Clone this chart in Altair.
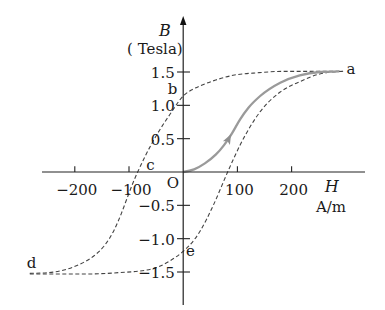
import altair as alt
import pandas as pd

# ---- data (H in A/m, B in Tesla) ----
upper_H = [-283, -250, -220, -190, -165, -145, -128, -114, -102, -92, -84, -70, -49, -24, 0, 15, 31, 60, 92, 140, 185, 240, 295]
upper_B = [-1.52, -1.51, -1.47, -1.38, -1.26, -1.10, -0.88, -0.62, -0.36, -0.15, 0.0, 0.24, 0.555, 0.87, 1.14, 1.23, 1.29, 1.38, 1.45, 1.49, 1.51, 1.51, 1.51]

lower_H = [-283, -230, -178, -120, -67, -45, -24, 0, 15, 31, 55.5, 82, 105, 142, 179, 215, 252, 275, 295]
lower_B = [-1.53, -1.53, -1.53, -1.51, -1.47, -1.42, -1.33, -1.19, -1.07, -0.89, -0.50, 0.0, 0.405, 0.905, 1.20, 1.355, 1.47, 1.50, 1.51]

init_H = [0, 20, 40, 60, 75, 90, 105, 120, 142, 179, 215, 252, 288]
init_B = [0, 0.04, 0.13, 0.26, 0.40, 0.58, 0.79, 0.96, 1.14, 1.34, 1.45, 1.50, 1.51]

x_ticks = [-200, -100, 100, 200]
x_tick_labels = ["\u2212200", "\u2212100", "100", "200"]
y_ticks = [1.5, 1.0, 0.5, -0.5, -1.0, -1.5]
y_tick_labels = ["1.5", "1.0", "0.5", "\u22120.5", "\u22121.0", "\u22121.5"]

point_labels = ["a", "b", "c", "d", "e", "O"]
point_label_H = [309.6, -19.7, -60.3, -279.9, 13.5, -18.8]
point_label_B = [1.545, 1.24, 0.105, -1.365, -1.19, -0.165]

arrow_H = [84.0]
arrow_B = [0.50]

# ---- geometry / styling constants ----
XDOM = [-338.0, 372.3]
YDOM = [-2.07, 2.58]
FONT = "DejaVu Serif"
xs = alt.Scale(domain=XDOM, nice=False, zero=False)
ys = alt.Scale(domain=YDOM, nice=False, zero=False)

def X(field="x"):
    return alt.X(f"{field}:Q", scale=xs, axis=None)

def Y(field="y"):
    return alt.Y(f"{field}:Q", scale=ys, axis=None)

upper = pd.DataFrame({"x": upper_H, "y": upper_B, "i": range(len(upper_H))})
lower = pd.DataFrame({"x": lower_H, "y": lower_B, "i": range(len(lower_H))})
init = pd.DataFrame({"x": init_H, "y": init_B, "i": range(len(init_H))})

axes_df = pd.DataFrame({"x": [-260.5, 0], "x2": [335.4, 0], "y": [0, -1.995], "y2": [0, 2.25]})
axes = alt.Chart(axes_df).mark_rule(color="#222", strokeWidth=1.2).encode(
    x=X(), x2="x2:Q", y=Y(), y2="y2:Q")

arrow_up = alt.Chart(pd.DataFrame({"x": [0], "y": [2.272]})).mark_point(
    shape="M0,-1L0.72,1L-0.72,1Z", filled=True, color="#111", size=81, opacity=1
).encode(x=X(), y=Y())

xt = pd.DataFrame({"x": x_ticks, "y": [0] * len(x_ticks), "y2": [0.085] * len(x_ticks), "label": x_tick_labels})
xtick_marks = alt.Chart(xt).mark_rule(color="#222", strokeWidth=1.1).encode(x=X(), y=Y(), y2="y2:Q")
xtick_text = alt.Chart(xt).mark_text(font=FONT, fontSize=15, color="#1a1a1a", baseline="middle",
                                     align="center", dy=18, dx=2).encode(x=X(), y=Y(), text="label:N")

yt = pd.DataFrame({"y": y_ticks, "x": [-11.4] * len(y_ticks), "x2": [12.5] * len(y_ticks), "x0": [0] * len(y_ticks),
                   "label": y_tick_labels})
ytick_marks = alt.Chart(yt).mark_rule(color="#222", strokeWidth=1.1).encode(x=X(), x2="x2:Q", y=Y())
ytick_text = alt.Chart(yt).mark_text(font=FONT, fontSize=15, color="#1a1a1a", baseline="middle",
                                     align="right", dx=-8.5, dy=1).encode(x=X("x0"), y=Y(), text="label:N")

dash_style = dict(color="#444444", strokeWidth=1.1, strokeDash=[4, 2.5], interpolate="monotone")
upper_line = alt.Chart(upper).mark_line(**dash_style).encode(x=X(), y=Y(), order="i:Q")
lower_line = alt.Chart(lower).mark_line(**dash_style).encode(x=X(), y=Y(), order="i:Q")
init_line = alt.Chart(init).mark_line(color="#9a9a9a", strokeWidth=2.3, interpolate="monotone").encode(
    x=X(), y=Y(), order="i:Q")

arrow_init = alt.Chart(pd.DataFrame({"x": arrow_H, "y": arrow_B})).mark_point(
    shape="M0,-1L0.8,1L0,0.55L-0.8,1Z", filled=True, color="#8f8f8f", size=100, angle=28, opacity=1
).encode(x=X(), y=Y())

pl = pd.DataFrame({"x": point_label_H, "y": point_label_B, "label": point_labels})
point_text = alt.Chart(pl).mark_text(font=FONT, fontSize=15, color="#1a1a1a", baseline="middle",
                                     align="center").encode(x=X(), y=Y(), text="label:N")

tesla_text = alt.Chart(pd.DataFrame({"x": [-0.9], "y": [1.845], "label": ["( Tesla)"]})).mark_text(
    font=FONT, fontSize=15, color="#1a1a1a", baseline="middle", align="right").encode(
    x=X(), y=Y(), text="label:N")
am_text = alt.Chart(pd.DataFrame({"x": [272.7], "y": [-0.52], "label": ["A/m"]})).mark_text(
    font=FONT, fontSize=15, color="#1a1a1a", baseline="middle", align="center").encode(
    x=X(), y=Y(), text="label:N")
titles_italic = pd.DataFrame({"x": [-33.6, 274.0], "y": [2.12, -0.23], "label": ["B", "H"]})
italic_text = alt.Chart(titles_italic).mark_text(font=FONT, fontSize=16, fontStyle="italic", color="#1a1a1a",
                                                 baseline="middle", align="center").encode(
    x=X(), y=Y(), text="label:N")

chart = alt.layer(
    upper_line, lower_line, init_line, arrow_init,
    axes, arrow_up, xtick_marks, ytick_marks,
    xtick_text, ytick_text, point_text, tesla_text, am_text, italic_text,
).properties(
    width=385, height=310, autosize=alt.AutoSizeParams(type="none"), padding=0, background="white"
).configure_view(strokeWidth=0)

chart.save("out.html", embed_options={"renderer": "svg", "actions": False})
